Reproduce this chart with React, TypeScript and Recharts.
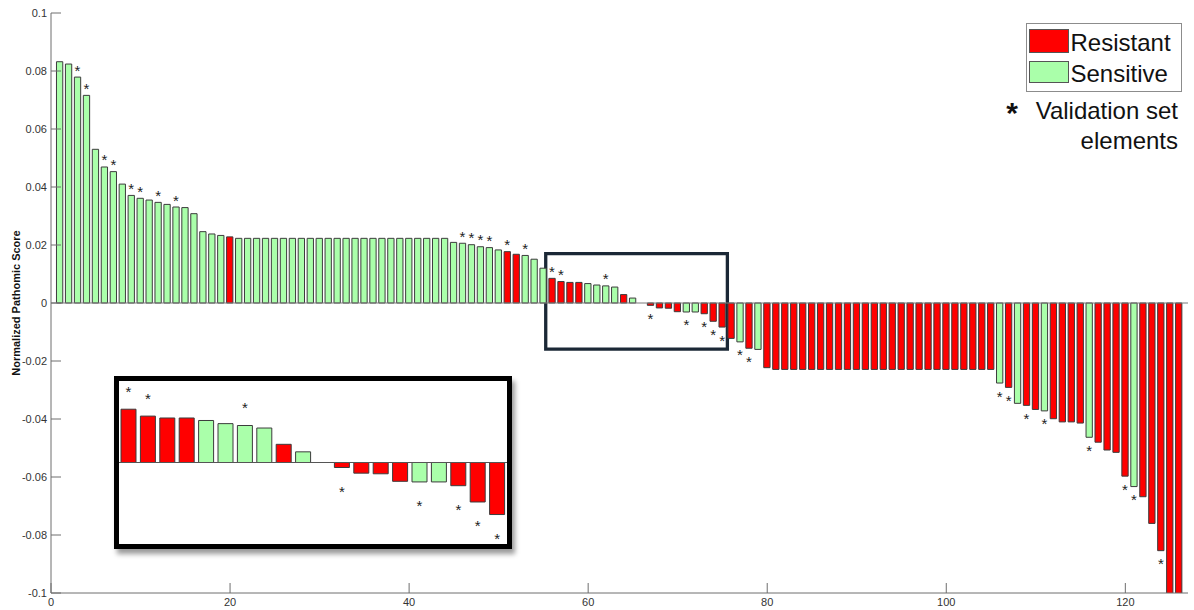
import { Bar, BarChart, Cell, LabelList, ReferenceArea, ReferenceLine, XAxis, YAxis } from "recharts";

// normalized pathomic score of each sample, sorted, sample 1..126
const scores = [
    0.0832, 0.0824, 0.0779, 0.0716, 0.053, 0.0469, 0.0453, 0.041, 0.0371, 0.0361,
    0.0355, 0.0347, 0.034, 0.0331, 0.0329, 0.0308, 0.0246, 0.0238, 0.0233, 0.0228,
    0.0223, 0.0223, 0.0223, 0.0223, 0.0223, 0.0223, 0.0223, 0.0223, 0.0223, 0.0223,
    0.0223, 0.0223, 0.0223, 0.0223, 0.0223, 0.0223, 0.0223, 0.0223, 0.0223, 0.0223,
    0.0223, 0.0223, 0.0223, 0.0223, 0.0209, 0.0206, 0.0201, 0.0194, 0.0191, 0.0183,
    0.0177, 0.0168, 0.0164, 0.0151, 0.012, 0.0085, 0.0074, 0.0071, 0.0071, 0.0067,
    0.0062, 0.0059, 0.0055, 0.0029, 0.0017, 0, -0.0008, -0.0017, -0.0018, -0.003,
    -0.0031, -0.0031, -0.0037, -0.0063, -0.0083, -0.0122, -0.0134, -0.0156, -0.016, -0.0223,
    -0.0229, -0.0229, -0.0229, -0.0229, -0.0229, -0.0229, -0.0229, -0.0229, -0.0229, -0.0229,
    -0.0229, -0.0229, -0.0229, -0.0229, -0.0229, -0.0229, -0.0229, -0.0229, -0.0229, -0.0229,
    -0.0229, -0.0229, -0.0229, -0.0229, -0.0229, -0.0276, -0.0291, -0.0346, -0.0353, -0.0367,
    -0.0372, -0.0399, -0.041, -0.041, -0.0414, -0.0463, -0.048, -0.0507, -0.0515, -0.0597,
    -0.0633, -0.0668, -0.076, -0.0854, -0.108, -0.112,
];

// R = resistant, S = sensitive (ten per chunk)
const groups = [
    "SSSSSSSSSS", "SSSSSSSSSR", "SSSSSSSSSS", "SSSSSSSSSS", "SSSSSSSSSS",
    "RRSSSRRRRS", "SSSRSRRRRR", "SSRRRRSRSR", "RRRRRRRRRR", "RRRRRRRRRR",
    "RRRRRSRSRR", "SRRRRSRRRR", "SRRRRR",
].join("").split("");

// samples that belong to the validation set (marked with *)
const validation = [
    3, 4, 6, 7, 9, 10, 12, 14, 46, 47, 48, 49, 51, 53, 56, 57, 62,
    67, 71, 73, 74, 75, 77, 78, 106, 107, 109, 111, 116, 120, 121, 124,
];

const xTicks = [0, 20, 40, 60, 80, 100, 120];
const yTicks = [0.1, 0.08, 0.06, 0.04, 0.02, 0, -0.02, -0.04, -0.06, -0.08, -0.1];
const legendLabels = ["Resistant", "Sensitive"];
const insetFirst = 56;
const insetLast = 75;

const RED = "#ff0000";
const GREEN = "#aaffaa";
const FONT = "'Liberation Sans', Arial, Helvetica, sans-serif";

const data = scores.map((score, i) => ({
    idx: i + 1,
    score,
    group: groups[i],
    star: validation.includes(i + 1),
}));
const insetData = data.filter((d) => d.idx >= insetFirst && d.idx <= insetLast);

// label value is the sample number, so zero-height bars can't shift the lookup
const starLabel = (gap: number) => (props: any) => {
    const { x, y, width, height, value } = props;
    const row = data[Number(value) - 1];
    if (!row || !row.star) return null;
    const top = Math.min(y, y + height);
    const bottom = Math.max(y, y + height);
    const cy = row.score >= 0 ? top - gap : bottom + gap;
    return (
        <text x={x + width / 2} y={cy + 8.5} textAnchor="middle" fontSize={15} fill="#222" fontFamily={FONT}>
            *
        </text>
    );
};

const yLabel = (props: any) => {
    const vb = props.viewBox;
    const cx = vb.x + 20;
    const cy = vb.y + vb.height / 2;
    return (
        <text x={cx} y={cy} transform={`rotate(-90 ${cx} ${cy})`} textAnchor="middle" fontSize={11} fontWeight="bold" fill="#111" fontFamily={FONT}>
            Normalized Pathomic Score
        </text>
    );
};

export default function App() {
    return (
        <div style={{ position: "absolute", left: 0, top: 0, width: 1194, height: 610, background: "#fff", fontFamily: FONT }}>
            <BarChart width={1194} height={610} data={data} margin={{ top: 13, right: 6, bottom: 0, left: 0 }}>
                <XAxis
                    type="number"
                    dataKey="idx"
                    domain={[0, 127]}
                    ticks={xTicks}
                    interval={0}
                    allowDataOverflow
                    height={17}
                    tickSize={-10}
                    tickMargin={15}
                    stroke="#6e6e6e"
                    tick={{ fill: "#333", fontSize: 11, fontFamily: FONT }}
                />
                <YAxis
                    type="number"
                    domain={[-0.1, 0.1]}
                    ticks={yTicks}
                    interval={0}
                    allowDataOverflow
                    width={51}
                    tickSize={-10}
                    tickMargin={14}
                    stroke="#6e6e6e"
                    tick={{ fill: "#333", fontSize: 11, fontFamily: FONT }}
                    tickFormatter={(v: number) => `${Math.round(v * 100) / 100}`}
                    label={yLabel}
                />
                <ReferenceLine y={0} stroke="#7a7a7a" strokeWidth={1} />
                <Bar dataKey="score" barSize={6.3} stroke="#3c3c3c" strokeWidth={1} isAnimationActive={false}>
                    {data.map((d) => (
                        <Cell key={d.idx} fill={d.group === "R" ? RED : GREEN} />
                    ))}
                    <LabelList dataKey="idx" content={starLabel(10)} />
                </Bar>
                <ReferenceArea
                    x1={55.26}
                    x2={75.55}
                    y1={-0.0159}
                    y2={0.017}
                    fill="none"
                    fillOpacity={0}
                    stroke="#1b2836"
                    strokeWidth={3.3}
                />
            </BarChart>

            {/* zoomed inset of the boxed region */}
            <div
                style={{
                    position: "absolute",
                    left: 114,
                    top: 376,
                    width: 398,
                    height: 173,
                    boxSizing: "border-box",
                    border: "5px solid #000",
                    background: "#fff",
                    boxShadow: "3px 5px 5px rgba(0,0,0,0.4)",
                }}
            >
                {/* svg is a little taller than the frame so the lowest stars are not clipped */}
                <BarChart width={388} height={174} data={insetData} margin={{ top: 0, right: 0, bottom: 11, left: 0 }}>
                    <XAxis type="number" dataKey="idx" domain={[insetFirst - 0.5, insetLast + 0.5]} hide />
                    <YAxis type="number" domain={[-0.013, 0.013]} hide allowDataOverflow />
                    <ReferenceLine y={0} stroke="#555" strokeWidth={1} />
                    <Bar dataKey="score" barSize={15} stroke="#3c3c3c" strokeWidth={1} isAnimationActive={false}>
                        {insetData.map((d) => (
                            <Cell key={d.idx} fill={d.group === "R" ? RED : GREEN} />
                        ))}
                        <LabelList dataKey="idx" content={starLabel(21)} />
                    </Bar>
                </BarChart>
            </div>

            {/* legend */}
            <svg width={1194} height={170} style={{ position: "absolute", left: 0, top: 0, pointerEvents: "none" }}>
                <rect x={1026.5} y={23.5} width={155} height={68} fill="#fff" stroke="#8c8c8c" />
                <rect x={1029.5} y={29.5} width={39} height={23} fill={RED} stroke="#555" />
                <rect x={1029.5} y={61.5} width={39} height={21} fill={GREEN} stroke="#555" />
                <text x={1070.5} y={50.7} fontSize={24} fill="#111" fontFamily={FONT}>
                    {legendLabels[0]}
                </text>
                <text x={1070.5} y={82} fontSize={24} fill="#111" fontFamily={FONT}>
                    {legendLabels[1]}
                </text>
                <text x={1012} y={123} textAnchor="middle" fontSize={30} fontWeight="bold" fill="#111" fontFamily={FONT}>
                    *
                </text>
                <text x={1178} y={118.5} textAnchor="end" fontSize={24} fill="#111" fontFamily={FONT}>
                    Validation set
                </text>
                <text x={1178} y={149} textAnchor="end" fontSize={24} fill="#111" fontFamily={FONT}>
                    elements
                </text>
            </svg>
        </div>
    );
}
